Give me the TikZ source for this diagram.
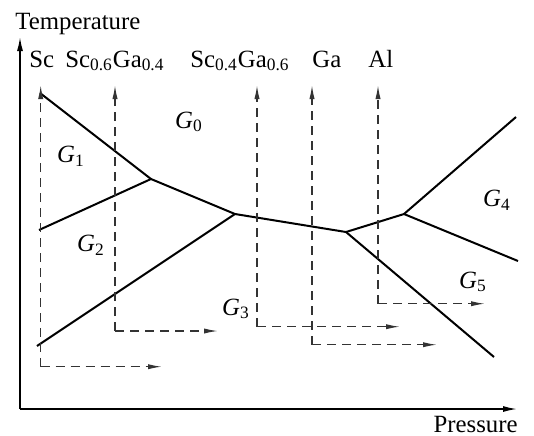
\documentclass[tikz,border=0pt]{standalone}
\usepackage{fontspec}
\setmainfont{Liberation Serif}
\usetikzlibrary{arrows.meta}

\newcommand{\phase}[1]{\textit{G}\textsubscript{#1}}

\begin{document}
\begin{tikzpicture}[x=0.5pt, y=-0.5pt, every node/.style={font=\fontsize{12.4}{14}\selectfont, inner sep=0pt},
	axis/.style={line width=0.75pt, -{Latex[length=7pt,width=3pt]}},
	boundary/.style={line width=1pt},
	route/.style={black!80, line width=0.65pt, dash pattern=on 4.5pt off 3pt, -{Latex[length=7pt,width=2.6pt]}}]
	\useasboundingbox (0,0) rectangle (534,435);
	% axes
	\coordinate (O) at (20,409);
	\coordinate (Ttip) at (20,37);
	\coordinate (Ptip) at (517,409);
	\draw[axis] (O) -- (Ttip);
	\draw[axis] (O) -- (Ptip);
	\node[anchor=base west] (tlabel) at (15,29) {Temperature};
	\node[anchor=base east] (plabel) at (518,432) {Pressure};
	% compositions
	\node[anchor=base west] (sc) at (29,67) {Sc};
	\node[anchor=base west] (scga) at (65,67) {Sc\textsubscript{0.6}Ga\textsubscript{0.4}};
	\node[anchor=base west] (gasc) at (190,67) {Sc\textsubscript{0.4}Ga\textsubscript{0.6}};
	\node[anchor=base west] (ga) at (312,67) {Ga};
	\node[anchor=base west] (al) at (368,67) {Al};
	% phase boundaries
	\coordinate (A) at (151,179);
	\coordinate (B) at (235,214);
	\coordinate (C) at (346,232);
	\coordinate (D) at (404,214);
	\coordinate (e1) at (40,93);
	\coordinate (e2) at (39,230);
	\coordinate (e3) at (37,346);
	\coordinate (e4) at (516,117);
	\coordinate (e5) at (518,261);
	\coordinate (e6) at (494,357);
	\draw[boundary] (e1) -- (A) -- (B) -- (C) -- (D) -- (e4);
	\draw[boundary] (e2) -- (A);
	\draw[boundary] (e3) -- (B);
	\draw[boundary] (D) -- (e5);
	\draw[boundary] (C) -- (e6);
	% compression routes
	\foreach \x/\yb/\xe [count=\i] in {40.7/366.7/162, 115/331/218, 257/326.7/400, 312/344.7/437, 378/303.7/485} {
		\coordinate (top\i) at (\x,85);
		\coordinate (bot\i) at (\x,\yb);
		\coordinate (end\i) at (\xe,\yb);
		\draw[route] (bot\i) -- (top\i);
		\draw[route] (bot\i) -- (end\i);
	}
	% phases
	\node (g0) at (189,122) {\phase{0}};
	\node (g1) at (71,156) {\phase{1}};
	\node (g2) at (91,245) {\phase{2}};
	\node (g3) at (236,309) {\phase{3}};
	\node (g4) at (497,200) {\phase{4}};
	\node (g5) at (473,282) {\phase{5}};
\end{tikzpicture}
\end{document}
